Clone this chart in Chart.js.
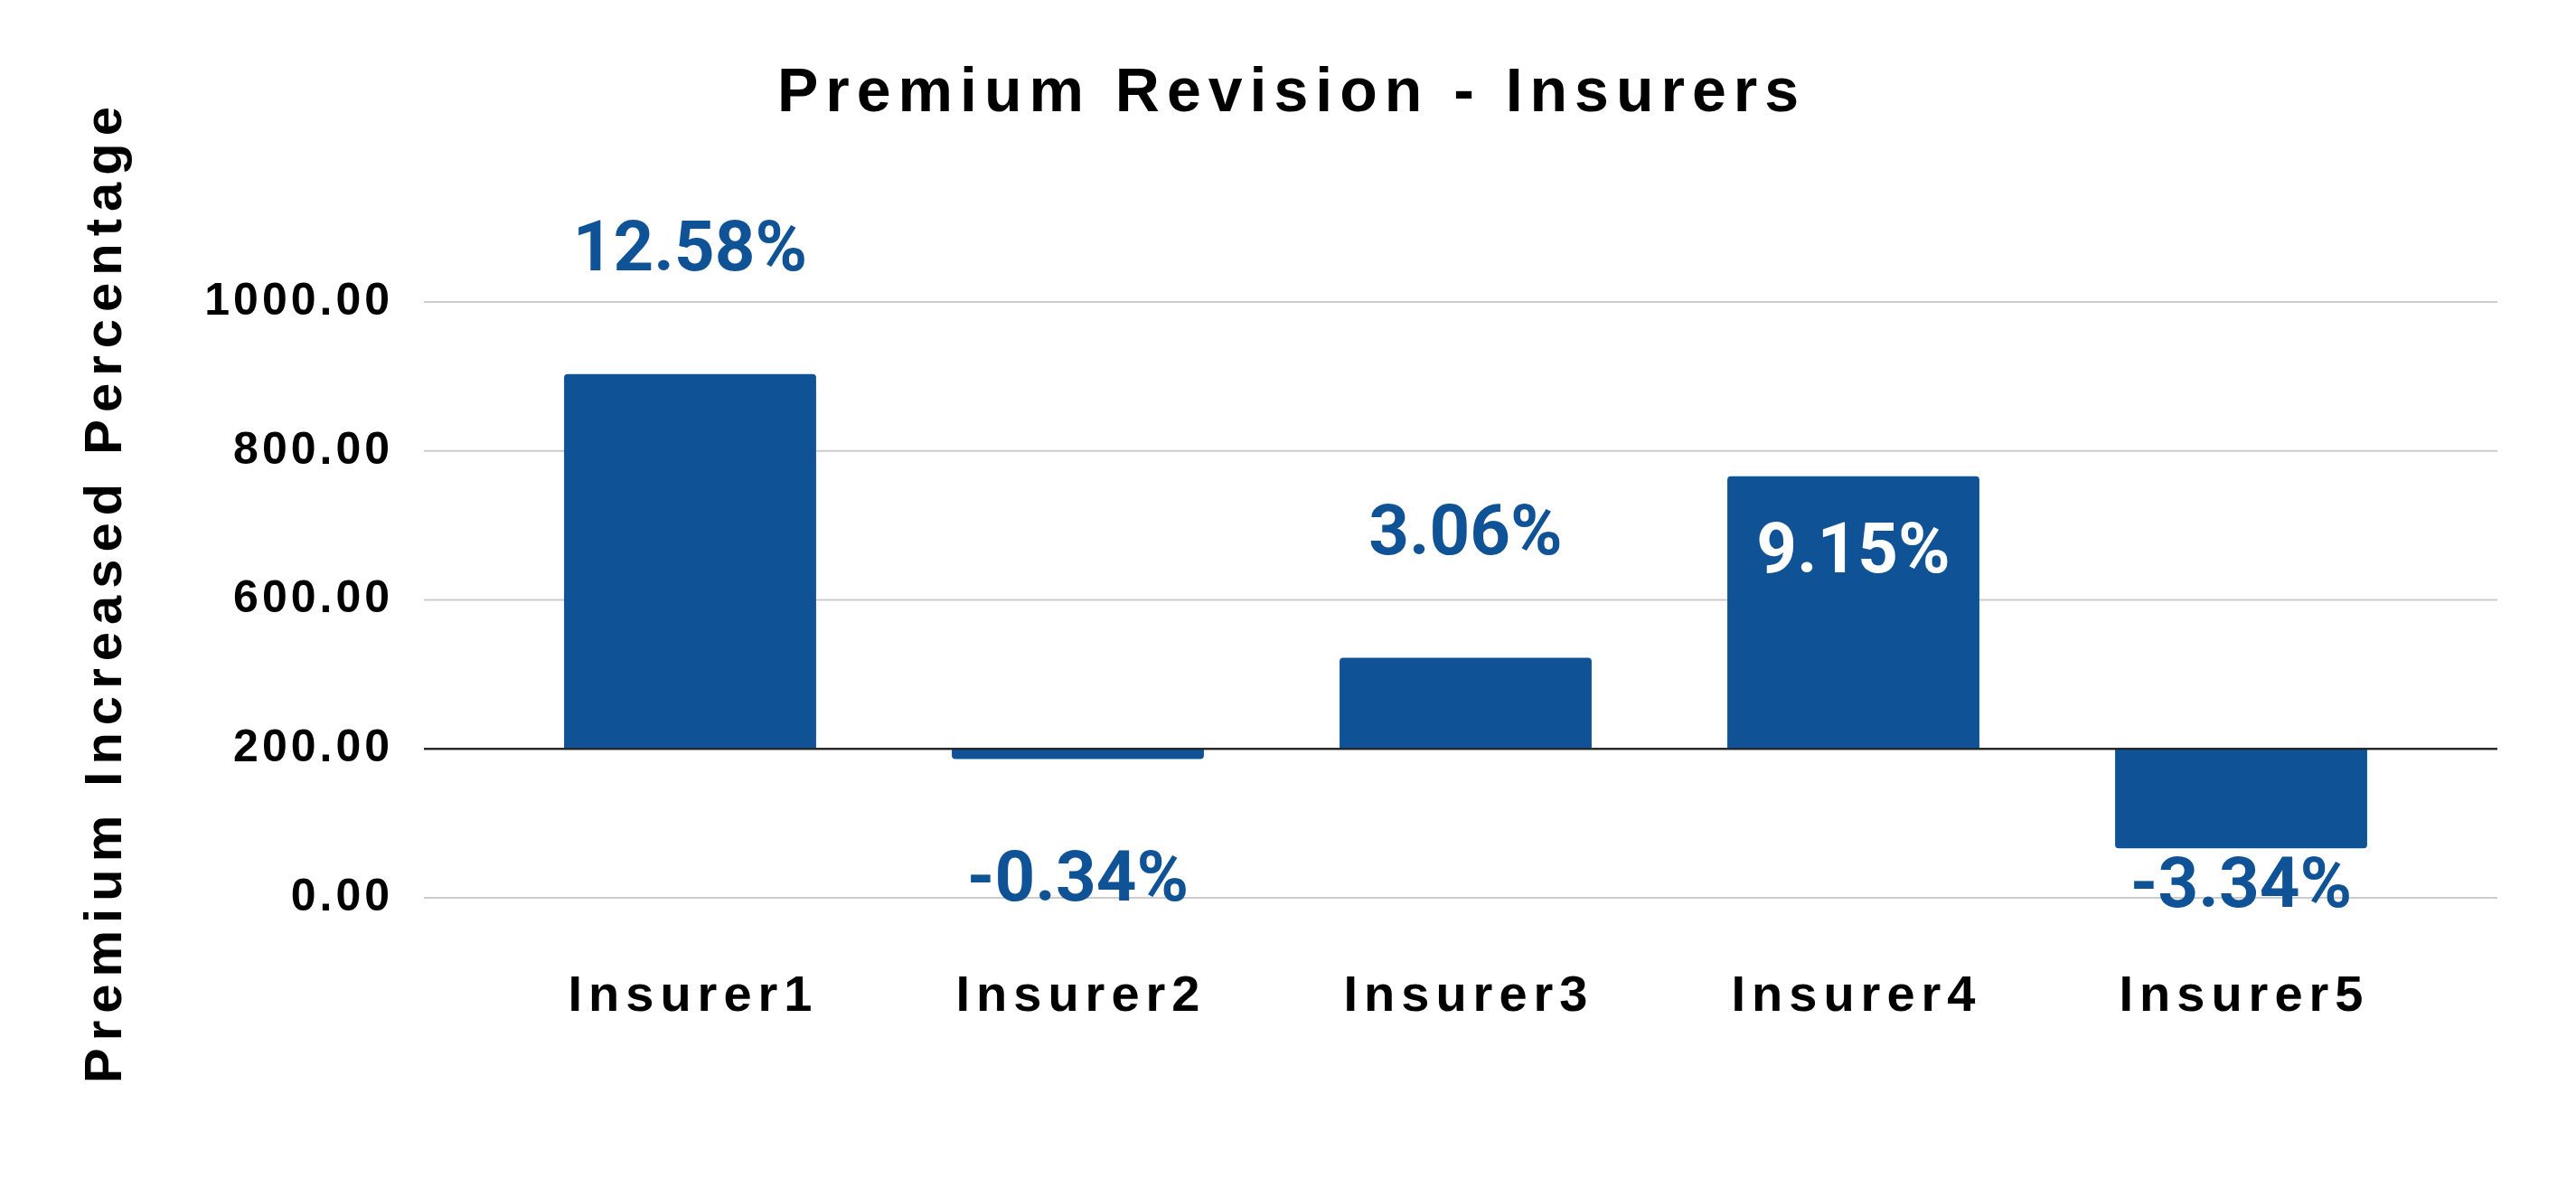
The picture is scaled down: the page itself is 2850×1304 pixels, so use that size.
<!DOCTYPE html>
<html><head><meta charset="utf-8">
<script src="https://cdn.jsdelivr.net/npm/chart.js@4/dist/chart.umd.min.js"></script>
<style>html,body{margin:0;padding:0;background:#fff}#wrap{width:2850px;height:1304px}</style>
</head><body><div id="wrap"><canvas id="c" width="2850" height="1304"></canvas></div>
<script>
const categories = ["Insurer1","Insurer2","Insurer3","Insurer4","Insurer5"];
const premiumChange = [12.58, -0.34, 3.06, 9.15, -3.34];
const valueLabels = ["12.58%","-0.34%","3.06%","9.15%","-3.34%"];
const yTickValues = [-5, 0, 5, 10, 15];
const yTickLabels = ["0.00","200.00","600.00","800.00","1000.00"];
const chartTitle = "Premium Revision - Insurers";
const yAxisTitle = "Premium Increased Percentage";

const BLUE = "#0f5396";
const labelPlacement = ["above","below","above","inside","below"];
const GRID_LEFT = 469, GRID_RIGHT = 2763;

function spacedText(ctx, text, x, y, spacing, align) {
  ctx.letterSpacing = spacing + "px";
  const w = ctx.measureText(text).width - spacing;
  ctx.textAlign = "left";
  let sx = align === "right" ? x - w : x - w / 2;
  ctx.fillText(text, sx, y);
}

const overlay = {
  id: "overlay",
  beforeDatasetsDraw(chart) {
    const ctx = chart.ctx, ys = chart.scales.y;
    ctx.save();
    yTickValues.forEach(v => {
      const y = ys.getPixelForValue(v);
      ctx.strokeStyle = v === 0 ? "#222" : "#cccccc";
      ctx.lineWidth = 2;
      ctx.beginPath(); ctx.moveTo(GRID_LEFT, y); ctx.lineTo(GRID_RIGHT, y); ctx.stroke();
    });
    ctx.restore();
  },
  afterDraw(chart) {
    const ctx = chart.ctx, ys = chart.scales.y, xs = chart.scales.x;
    const meta = chart.getDatasetMeta(0);
    ctx.save();
    ctx.textBaseline = "middle";
    // zero line on top of bars
    const zy = ys.getPixelForValue(0);
    ctx.strokeStyle = "#222"; ctx.lineWidth = 2;
    ctx.beginPath(); ctx.moveTo(GRID_LEFT, zy); ctx.lineTo(GRID_RIGHT, zy); ctx.stroke();
    // data labels
    ctx.font = "bold 78px Roboto";
    meta.data.forEach((bar, i) => {
      const p = labelPlacement[i];
      let y;
      if (p === "above") { ctx.fillStyle = BLUE; y = bar.y - 134; }
      else if (p === "inside") { ctx.fillStyle = "#ffffff"; y = bar.y + 87; }
      else { ctx.fillStyle = BLUE; y = Math.max(bar.base + 148, bar.y + 45); }
      spacedText(ctx, valueLabels[i], bar.x, y, 0, "center");
    });
    ctx.fillStyle = "#000";
    // y tick labels
    ctx.font = "bold 50px 'Liberation Sans'";
    yTickValues.forEach((v, i) => spacedText(ctx, yTickLabels[i], 431, ys.getPixelForValue(v), 4, "right"));
    // x tick labels
    ctx.font = "bold 56px 'Liberation Sans'";
    categories.forEach((c, i) => spacedText(ctx, c, xs.getPixelForValue(i), 1103, 7, "center"));
    // title
    ctx.font = "bold 68px 'Liberation Sans'";
    spacedText(ctx, chartTitle, 1425, 104, 8, "center");
    // y title
    ctx.translate(118, 658);
    ctx.rotate(-Math.PI / 2);
    ctx.font = "bold 58px 'Liberation Sans'";
    spacedText(ctx, yAxisTitle, 0, 0, 8, "center");
    ctx.restore();
  }
};

new Chart(document.getElementById("c"), {
  type: "bar",
  data: { labels: categories, datasets: [{ data: premiumChange, backgroundColor: BLUE,
    categoryPercentage: 1, barPercentage: 0.65, borderRadius: 4, borderSkipped: "start" }] },
  options: {
    responsive: false, animation: false, devicePixelRatio: 1,
    layout: { padding: { top: 334, right: 156, left: 0, bottom: 0 } },
    plugins: { legend: { display: false }, tooltip: { enabled: false } },
    scales: {
      x: {
        grid: { display: false }, border: { display: false },
        ticks: { display: false },
        afterFit(s) { s.height = 311; }
      },
      y: {
        min: -5, max: 15,
        border: { display: false },
        grid: { display: false },
        afterBuildTicks(s) { s.ticks = yTickValues.map(v => ({ value: v })); },
        ticks: { display: false },
        afterFit(s) { s.width = 549; }
      }
    }
  },
  plugins: [overlay]
});
</script></body></html>
